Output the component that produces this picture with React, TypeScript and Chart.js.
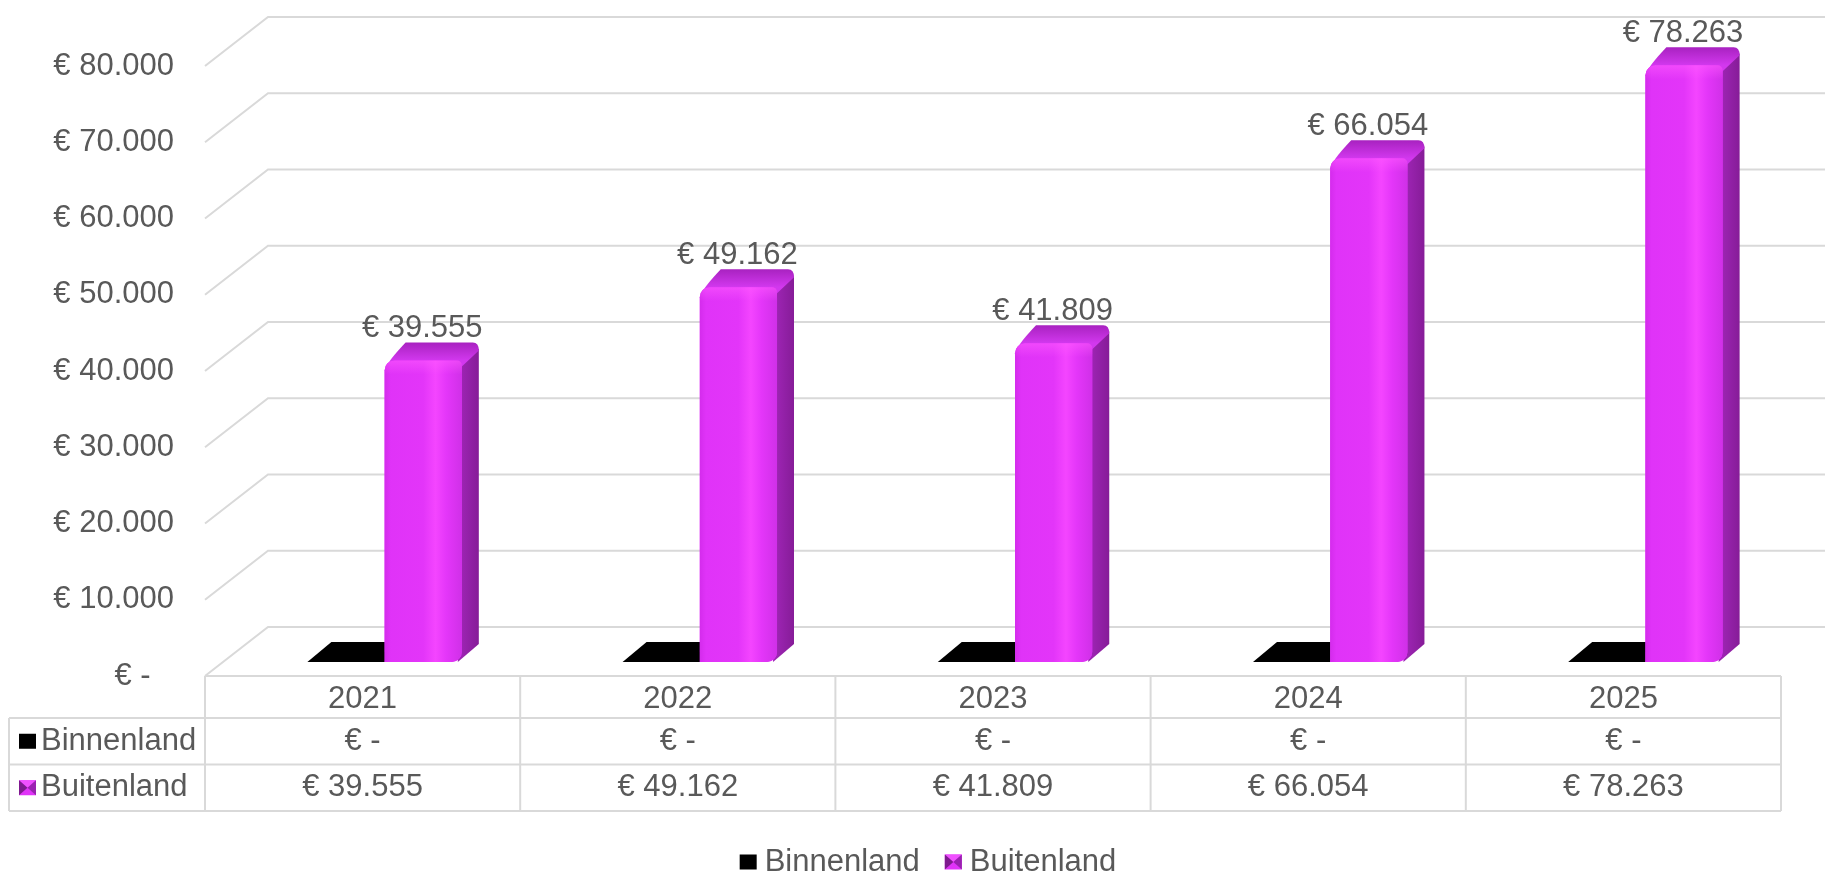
import React, { useEffect, useRef } from "react";
import { Chart, registerables } from "chart.js";

Chart.register(...registerables);

// ---- data ----
const years = ["2021", "2022", "2023", "2024", "2025"];
const seriesNames = ["Binnenland", "Buitenland"];
const binnenland = [0, 0, 0, 0, 0];
const buitenland = [39555, 49162, 41809, 66054, 78263];
const yMin = 0;
const yMax = 80000;
const yStep = 10000;

// ---- styles / layout ----
const FONT = "'Liberation Sans', Arial, Helvetica, sans-serif";
const FONT_SIZE = 31;
const TEXT = "#595959";
const GRID = "#D9D9D9";
const BLACK = "#000000";
const MAGENTA = "#E033F8";
const CANVAS_W = 1825;
const CANVAS_H = 875;
const PAD_TOP = 52;
const PAD_RIGHT = 22;
const Y_AXIS_W = 227;
const X_AXIS_H = 213;
const FRONT = { dx: -22, dy: 14 }; // front (table) plane relative to bar plane
const BACK = { dx: 41, dy: -35 }; // back wall relative to bar plane
const BLACK_DEPTH = { dx: 24, dy: -20 };
const BAR_DEPTH = { dx: 17, dy: -18 };
const LABEL_GAP = 32;
const TABLE_LEFT = 9;
const HEADER_H = 42;
const ROW_H = 46.5;
const MARKER_W = 17;
const MARKER_H = 15;
const LEGEND_CENTER_X = 928;
const LEGEND_Y = 862;

function fmt(v: number): string {
  if (v === 0) return "€ -";
  return "€ " + String(Math.round(v)).replace(/\B(?=(\d{3})+(?!\d))/g, ".");
}

function drawMarker(ctx: CanvasRenderingContext2D, idx: number, x: number, y: number) {
  if (idx === 0) {
    ctx.fillStyle = BLACK;
    ctx.fillRect(x, y, MARKER_W, MARKER_H);
    return;
  }
  const cx = x + MARKER_W / 2;
  const cy = y + MARKER_H / 2;
  ctx.fillStyle = MAGENTA;
  ctx.fillRect(x, y, MARKER_W, MARKER_H);
  ctx.fillStyle = "#F050FF";
  ctx.beginPath();
  ctx.moveTo(x, y);
  ctx.lineTo(cx, cy);
  ctx.lineTo(x + MARKER_W, y);
  ctx.closePath();
  ctx.fill();
  ctx.fillStyle = "#7E1A8E";
  ctx.beginPath();
  ctx.moveTo(x, y);
  ctx.lineTo(cx, cy);
  ctx.lineTo(x, y + MARKER_H);
  ctx.closePath();
  ctx.fill();
  ctx.fillStyle = "#9A22B0";
  ctx.beginPath();
  ctx.moveTo(x + MARKER_W, y);
  ctx.lineTo(cx, cy);
  ctx.lineTo(x + MARKER_W, y + MARKER_H);
  ctx.closePath();
  ctx.fill();
}

const threeDPlugin = {
  id: "threeD",
  beforeDatasetsDraw(chart: any) {
    const { ctx, chartArea: ca, scales } = chart;
    const y = scales.y;
    ctx.save();
    // back wall grid lines + left wall diagonals
    ctx.strokeStyle = GRID;
    ctx.lineWidth = 2;
    for (const t of y.ticks) {
      const py = y.getPixelForValue(t.value);
      ctx.beginPath();
      ctx.moveTo(ca.left + FRONT.dx, py + FRONT.dy);
      ctx.lineTo(ca.left + BACK.dx, py + BACK.dy);
      ctx.lineTo(chart.width, py + BACK.dy);
      ctx.stroke();
    }
    // flat (zero) bars: top faces
    const m0 = chart.getDatasetMeta(0);
    m0.data.forEach((el: any) => {
      const p = el.getProps(["x", "y", "base", "width"], true);
      const x0 = p.x - p.width / 2;
      const x1 = p.x + p.width / 2;
      const top = Math.min(p.y, p.base);
      ctx.fillStyle = BLACK;
      ctx.beginPath();
      ctx.moveTo(x0, top);
      ctx.lineTo(x0 + BLACK_DEPTH.dx, top + BLACK_DEPTH.dy);
      ctx.lineTo(x1 + BLACK_DEPTH.dx, top + BLACK_DEPTH.dy);
      ctx.lineTo(x1, top);
      ctx.closePath();
      ctx.fill();
    });
    // magenta bars: side + top faces
    const m1 = chart.getDatasetMeta(1);
    m1.data.forEach((el: any) => {
      const p = el.getProps(["x", "y", "base", "width"], true);
      const x0 = p.x - p.width / 2;
      const x1 = p.x + p.width / 2;
      const top = Math.min(p.y, p.base);
      const base = Math.max(p.y, p.base);
      const d = BAR_DEPTH;
      // side
      const gs = ctx.createLinearGradient(x1, 0, x1 + d.dx, 0);
      gs.addColorStop(0, "#9C24B2");
      gs.addColorStop(1, "#861C98");
      ctx.fillStyle = gs;
      ctx.beginPath();
      ctx.moveTo(x1 - 2, top + 4);
      ctx.lineTo(x1 + d.dx, top + d.dy + 6);
      ctx.lineTo(x1 + d.dx, base + d.dy);
      ctx.lineTo(x1 - 4, base);
      ctx.closePath();
      ctx.fill();
      // top
      const gt = ctx.createLinearGradient(0, top, 0, top + d.dy);
      gt.addColorStop(0, "#D238EE");
      gt.addColorStop(1, "#A822C0");
      ctx.fillStyle = gt;
      ctx.beginPath();
      ctx.moveTo(x0 + 2, top + 6);
      ctx.quadraticCurveTo(x0 + 4, top, x0 + d.dx + 4, top + d.dy);
      ctx.lineTo(x1 + d.dx - 6, top + d.dy);
      ctx.quadraticCurveTo(x1 + d.dx, top + d.dy, x1 + d.dx, top + d.dy + 8);
      ctx.lineTo(x1, top + 6);
      ctx.closePath();
      ctx.fill();
    });
    ctx.restore();
  },
  afterDatasetsDraw(chart: any) {
    const { ctx } = chart;
    ctx.save();
    const m1 = chart.getDatasetMeta(1);
    m1.data.forEach((el: any, i: number) => {
      const p = el.getProps(["x", "y", "base", "width"], true);
      const x0 = p.x - p.width / 2;
      const top = Math.min(p.y, p.base);
      const base = Math.max(p.y, p.base);
      const g = ctx.createLinearGradient(x0, 0, x0 + p.width, 0);
      g.addColorStop(0, "#D42CEC");
      g.addColorStop(0.08, "#E033F8");
      g.addColorStop(0.5, "#E335F9");
      g.addColorStop(0.66, "#F445FF");
      g.addColorStop(0.8, "#E436F9");
      g.addColorStop(1, "#D030E8");
      ctx.fillStyle = g;
      ctx.beginPath();
      (ctx as any).roundRect(x0, top, p.width, base - top, [10, 5, 10, 0]);
      ctx.fill();
      // top-front bevel highlight
      const gh = ctx.createLinearGradient(0, top, 0, top + 14);
      gh.addColorStop(0, "rgba(255,90,255,0.55)");
      gh.addColorStop(1, "rgba(255,90,255,0)");
      ctx.fillStyle = gh;
      ctx.beginPath();
      (ctx as any).roundRect(x0, top, p.width, 14, [10, 5, 0, 0]);
      ctx.fill();
      // value label
      ctx.fillStyle = TEXT;
      ctx.font = `${FONT_SIZE}px ${FONT}`;
      ctx.textAlign = "center";
      ctx.textBaseline = "middle";
      ctx.fillText(fmt(buitenland[i]), p.x - 1, top - LABEL_GAP);
    });
    ctx.restore();
  },
  afterDraw(chart: any) {
    const { ctx, chartArea: ca, scales } = chart;
    const x = scales.x;
    const y = scales.y;
    const base = y.getPixelForValue(0);
    const top = base + FRONT.dy;
    const left = ca.left + FRONT.dx;
    const right = ca.right + FRONT.dx;
    const rows = [top, top + HEADER_H, top + HEADER_H + ROW_H, top + HEADER_H + 2 * ROW_H];
    const colW = (ca.right - ca.left) / years.length;
    ctx.save();
    ctx.strokeStyle = GRID;
    ctx.lineWidth = 2;
    const line = (a: number, b: number, c: number, d: number) => {
      ctx.beginPath();
      ctx.moveTo(a, b);
      ctx.lineTo(c, d);
      ctx.stroke();
    };
    line(left, rows[0], right, rows[0]);
    for (let r = 1; r < rows.length; r++) line(TABLE_LEFT, rows[r], right, rows[r]);
    line(TABLE_LEFT, rows[1], TABLE_LEFT, rows[3]);
    for (let i = 0; i <= years.length; i++) {
      const xe = left + i * colW;
      line(xe, rows[0], xe, rows[3]);
    }
    ctx.font = `${FONT_SIZE}px ${FONT}`;
    ctx.textBaseline = "middle";
    const seriesData = [binnenland, buitenland];
    seriesData.forEach((data, s) => {
      const mid = (rows[s + 1] + rows[s + 2]) / 2;
      drawMarker(ctx, s, TABLE_LEFT + 10, mid - MARKER_H / 2);
      ctx.fillStyle = TEXT;
      ctx.textAlign = "left";
      ctx.fillText(seriesNames[s], TABLE_LEFT + 32, mid);
      ctx.textAlign = "center";
      data.forEach((v, i) => {
        const cx = x.getPixelForValue(i) + FRONT.dx;
        ctx.fillText(fmt(v), cx, mid);
      });
    });
    // bottom legend
    const gapMarker = 8;
    const gapItem = 25;
    const widths = seriesNames.map((n) => ctx.measureText(n).width);
    const total =
      widths.reduce((a, b) => a + b, 0) + seriesNames.length * (MARKER_W + gapMarker) + gapItem * (seriesNames.length - 1);
    let lx = LEGEND_CENTER_X - total / 2;
    ctx.textAlign = "left";
    seriesNames.forEach((n, s) => {
      drawMarker(ctx, s, lx, LEGEND_Y - MARKER_H / 2);
      lx += MARKER_W + gapMarker;
      ctx.fillStyle = TEXT;
      ctx.fillText(n, lx, LEGEND_Y);
      lx += widths[s] + gapItem;
    });
    ctx.restore();
  },
};

export default function App() {
  const ref = useRef<HTMLCanvasElement>(null);
  useEffect(() => {
    document.body.style.margin = "0";
    Chart.defaults.font.family = FONT;
    const chart = new Chart(ref.current as HTMLCanvasElement, {
      type: "bar",
      data: {
        labels: years,
        datasets: [
          {
            label: seriesNames[0],
            data: binnenland,
            backgroundColor: BLACK,
            borderWidth: 0,
          },
          {
            label: seriesNames[1],
            data: buitenland,
            backgroundColor: MAGENTA,
            borderWidth: 0,
            borderSkipped: false,
            borderRadius: { topLeft: 10, topRight: 5, bottomLeft: 0, bottomRight: 10 },
          },
        ],
      },
      options: {
        responsive: false,
        animation: false,
        devicePixelRatio: 1,
        categoryPercentage: 0.49,
        barPercentage: 1.0,
        layout: { padding: { top: PAD_TOP, right: PAD_RIGHT, bottom: 0, left: 0 } },
        plugins: {
          legend: { display: false },
          tooltip: { enabled: false },
        },
        scales: {
          x: {
            grid: { display: false, drawTicks: false },
            border: { display: false },
            ticks: {
              padding: 19,
              labelOffset: FRONT.dx,
              color: TEXT,
              font: { size: FONT_SIZE, family: FONT },
              maxRotation: 0,
              autoSkip: false,
            },
            afterFit: (s: any) => {
              s.height = X_AXIS_H;
              s.paddingLeft = 0;
              s.paddingRight = 0;
            },
          },
          y: {
            min: yMin,
            max: yMax,
            grid: { display: false, drawTicks: false },
            border: { display: false },
            ticks: {
              stepSize: yStep,
              padding: 53,
              labelOffset: FRONT.dy,
              color: TEXT,
              font: { size: FONT_SIZE, family: FONT },
              callback: (v: any) => (Number(v) === 0 ? "€ -  \u2009" : fmt(Number(v))),
            },
            afterFit: (s: any) => {
              s.width = Y_AXIS_W;
              s.paddingTop = 0;
              s.paddingBottom = 0;
            },
          },
        },
      } as any,
      plugins: [threeDPlugin],
    });
    return () => chart.destroy();
  }, []);
  return (
    <canvas
      ref={ref}
      width={CANVAS_W}
      height={CANVAS_H}
      style={{ display: "block", width: CANVAS_W, height: CANVAS_H }}
    />
  );
}
